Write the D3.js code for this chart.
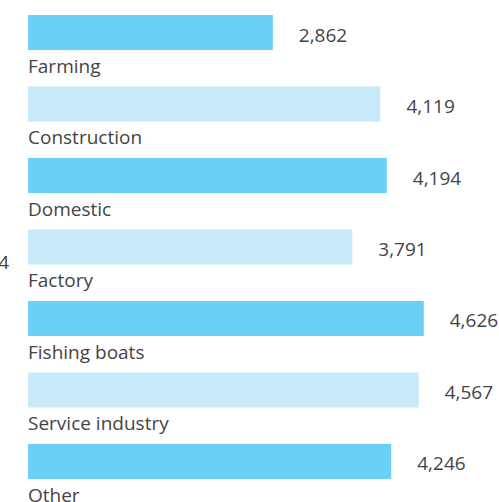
<!DOCTYPE html>
<html>
<head>
<meta charset="utf-8">
<script src="https://cdn.jsdelivr.net/npm/d3@7"></script>
<style>
	body { margin: 0; background: #fff; }
	text { font-family: "Open Sans", sans-serif; fill: #444; }
</style>
</head>
<body>
<div id="chart"></div>
<script>
// dati
var categories = ["Farming", "Construction", "Domestic", "Factory", "Fishing boats", "Service industry", "Other"]
var values = [2862, 4119, 4194, 3791, 4626, 4567, 4246]
var strayLabel = "4"

var width = 499,
	height = 502

var color = {dark: "#6bcff6", light: "#c7e9f8"}

var svg = d3.select("#chart").append("svg")
	.attr("width", width)
	.attr("height", height)

var x = d3.scaleLinear()
	.domain([0, 5000])
	.range([28, 28 + 5000 * 0.08555])

var y = d3.scaleBand()
	.domain(categories)
	.range([15, 479])
	.paddingInner(0.51)
	.paddingOuter(0)

var data = categories.map(function(c, i) { return {name: c, value: values[i]} })
var fmt = d3.format(",")

var group = svg.append("g")
	.selectAll("g")
	.data(data)
	.enter()
	.append("g")

group.append("rect")
	.attr("x", x(0))
	.attr("y", function(d) { return y(d.name) })
	.attr("width", function(d) { return x(d.value) - x(0) })
	.attr("height", y.bandwidth())
	.style("fill", function(d, i) { return i % 2 == 0 ? color.dark : color.light })

// etichette dei valori
group.append("text")
	.attr("x", function(d) { return x(d.value) + 26 })
	.attr("y", function(d) { return y(d.name) + y.bandwidth() / 2 + 9 })
	.style("font-size", "19px")
	.text(function(d) { return fmt(d.value) })

// etichette delle categorie sotto le barre
group.append("text")
	.attr("x", x(0))
	.attr("y", function(d) { return y(d.name) + y.bandwidth() + 22.5 })
	.style("font-size", "19px")
	.text(function(d) { return d.name })

// numero tagliato sul bordo sinistro
svg.append("text")
	.attr("x", 9)
	.attr("y", 269)
	.attr("text-anchor", "end")
	.style("font-size", "19px")
	.text(strayLabel)
</script>
</body>
</html>
